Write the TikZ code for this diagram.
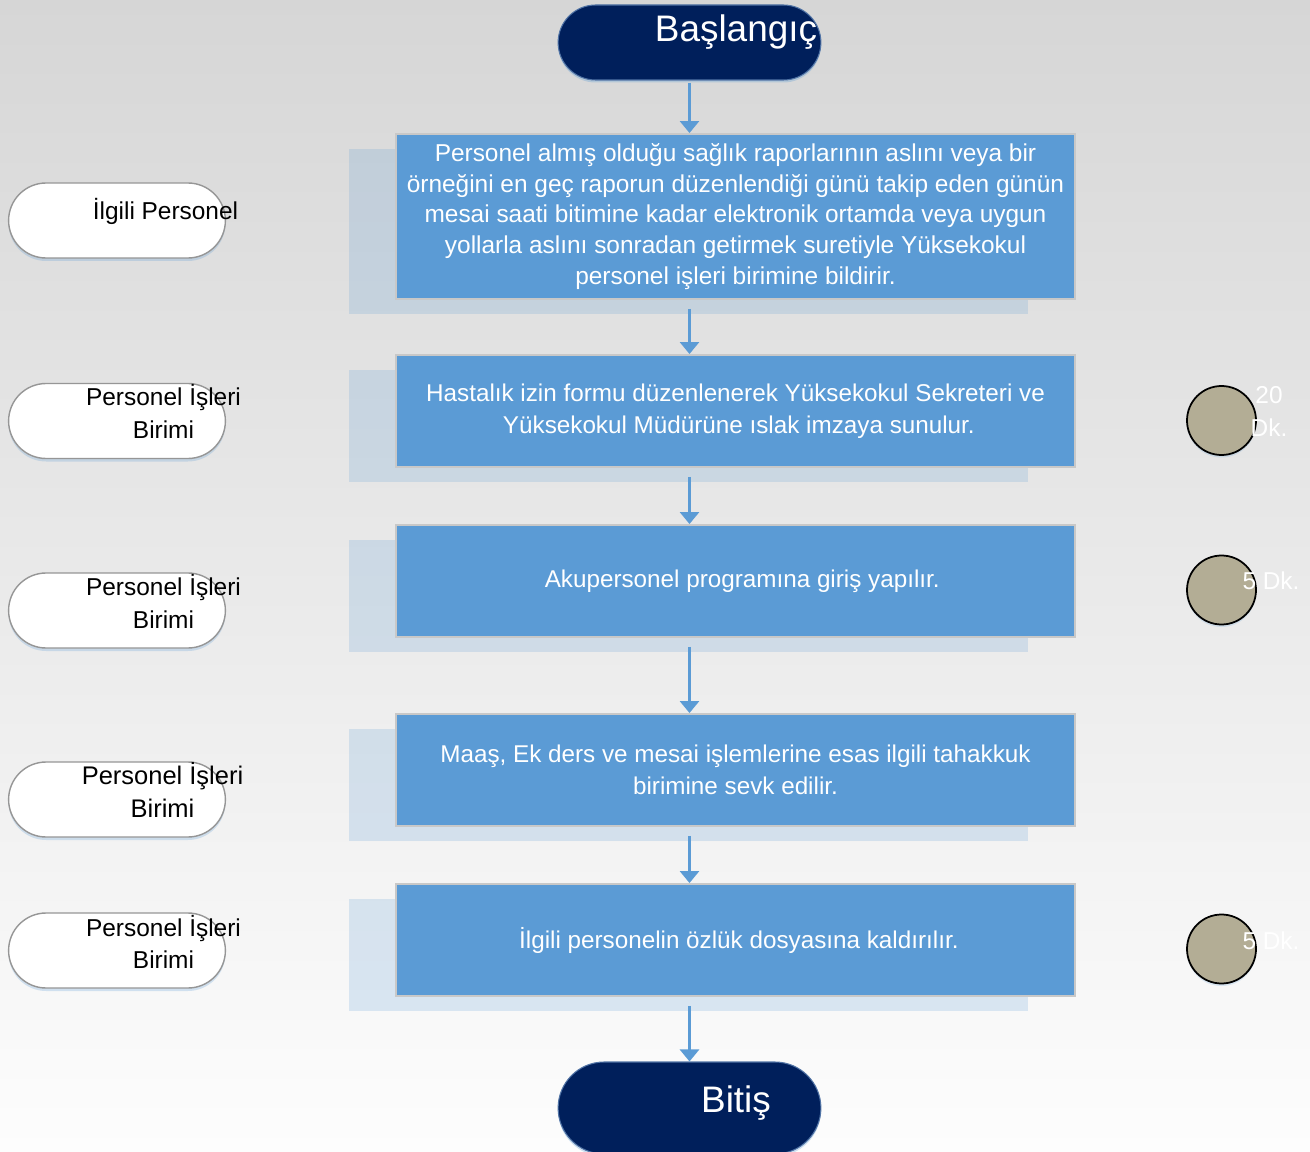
\documentclass[tikz,border=0pt]{standalone}
\usepackage{fontspec}
\setmainfont{Liberation Sans}
\usetikzlibrary{shadows,arrows.meta,shapes.misc}

\definecolor{stepblue}{RGB}{91,155,213}
\definecolor{boxgray}{RGB}{200,200,200}
\definecolor{navyfill}{RGB}{0,31,91}
\definecolor{navyedge}{RGB}{80,115,165}
\definecolor{rolegray}{RGB}{150,150,150}
\definecolor{timekhaki}{RGB}{179,173,149}
\definecolor{bgtop}{RGB}{214,214,214}
\definecolor{bgbottom}{RGB}{253,253,253}

\begin{document}
\begin{tikzpicture}
                \tikzset{stepbox/.style={rectangle, draw=boxgray, line width=1.1pt, fill=stepblue, text=white, minimum width=13.58cm, minimum height=2.24cm, inner sep=0pt, align=center, font=\fontsize{13.8}{18.4}\selectfont, drop shadow={shadow xshift=-0.94cm, shadow yshift=-0.3cm, fill=stepblue, opacity=0.2}}}
                \tikzset{endpill/.style={rounded rectangle, draw=navyedge, line width=0.6pt, fill=navyfill, minimum width=5.49cm, minimum height=1.5cm, drop shadow={shadow xshift=0cm, shadow yshift=-0.05cm, fill=stepblue, opacity=0.3}}}
                \tikzset{endtext/.style={text=white, anchor=base, font=\fontsize{21}{25}\selectfont}}
                \tikzset{rolepill/.style={rounded rectangle, draw=rolegray, line width=0.8pt, fill=white, minimum width=4.57cm, minimum height=1.5cm, drop shadow={shadow xshift=0cm, shadow yshift=-0.06cm, fill=stepblue, opacity=0.25}}}
                \tikzset{roletext/.style={align=center, font=\fontsize{13.9}{18.6}\selectfont}}
                \tikzset{timedot/.style={circle, draw=black, line width=1pt, fill=timekhaki, minimum size=1.38cm, inner sep=0pt, drop shadow={shadow xshift=0cm, shadow yshift=-0.05cm, fill=stepblue, opacity=0.2}}}
                \tikzset{timetext/.style={text=white, align=center, font=\fontsize{13.9}{18.6}\selectfont}}
                \tikzset{flowarrow/.style={-{Triangle[width=0.38cm, length=0.24cm]}, draw=stepblue, line width=1.6pt}}
                % Фон страницы:
                \shade[top color=bgtop, bottom color=bgbottom] (0, 0) rectangle (26.2, -23.04);
                \useasboundingbox (0, 0) rectangle (26.2, -23.04);

                % Начало и конец:
                \node[endpill] (start) at (13.79, -0.85) {};
                \node[endtext] (starttxt) at (14.72, -0.84) {Başlangıç};

                % Шаги процесса:
                \node[stepbox, minimum height=3.30cm, font=\fontsize{13.9}{17.5}\selectfont] (b1) at (14.71, -4.33)
                    {Personel almış olduğu sağlık raporlarının aslını veya bir\\
                     örneğini en geç raporun düzenlendiği günü takip eden günün\\
                     mesai saati bitimine kadar elektronik ortamda veya uygun\\
                     yollarla aslını sonradan getirmek suretiyle Yüksekokul\\
                     personel işleri birimine bildirir.};
                \node[stepbox] (b2) at (14.71, -8.22)
                    {Hastalık izin formu düzenlenerek Yüksekokul Sekreteri ve\\
                     \ Yüksekokul Müdürüne ıslak imzaya sunulur.};
                \node[stepbox] (b3) at (14.71, -11.62) {\ \ Akupersonel programına giriş yapılır.};
                \node[stepbox] (b4) at (14.71, -15.40)
                    {Maaş, Ek ders ve mesai işlemlerine esas ilgili tahakkuk\\
                     birimine sevk edilir.};
                \node[stepbox] (b5) at (14.71, -18.80) {\ İlgili personelin özlük dosyasına kaldırılır.};

                \node[endpill, minimum height=1.84cm] (end) at (13.79, -22.16) {};
                \node[endtext] (endtxt) at (14.72, -22.24) {Bitiş};

                \draw[flowarrow, shorten <=0.04cm] (start.south) -- (b1.north -| start);
                \draw[flowarrow, shorten <=0.18cm] (b1.south -| start) -- (b2.north -| start);
                \draw[flowarrow, shorten <=0.18cm] (b2.south -| start) -- (b3.north -| start);
                \draw[flowarrow, shorten <=0.18cm] (b3.south -| start) -- (b4.north -| start);
                \draw[flowarrow, shorten <=0.18cm] (b4.south -| start) -- (b5.north -| start);
                \draw[flowarrow, shorten <=0.18cm] (b5.south -| start) -- (end.north);

                % Ответственные:
                \node[rolepill] (r1) at (2.34, -4.41) {};
                \node[rolepill] (r2) at (2.34, -8.42) {};
                \node[rolepill] (r3) at (2.34, -12.21) {};
                \node[rolepill] (r4) at (2.34, -15.99) {};
                \node[rolepill] (r5) at (2.34, -19.01) {};
                \node[roletext] (t1) at (3.31, -4.22) {İlgili Personel};
                \node[roletext] (t2) at (3.27, -8.23) {Personel İşleri\\Birimi};
                \node[roletext] (t3) at (3.27, -12.03) {Personel İşleri\\Birimi};
                \node[roletext, font=\fontsize{14.5}{18.6}\selectfont] (t4) at (3.25, -15.80) {Personel İşleri\\Birimi};
                \node[roletext] (t5) at (3.27, -18.84) {Personel İşleri\\Birimi};

                % Время:
                \node[timedot] (c1) at (24.43, -8.41) {};
                \node[timedot] (c2) at (24.43, -11.80) {};
                \node[timedot] (c3) at (24.43, -18.98) {};
                \node[timetext] (d1) at (25.38, -8.23) {20\\Dk.};
                \node[timetext] (d2) at (25.42, -11.62) {5 Dk.};
                \node[timetext] (d3) at (25.42, -18.82) {5 Dk.};
            \end{tikzpicture}
\end{document}
